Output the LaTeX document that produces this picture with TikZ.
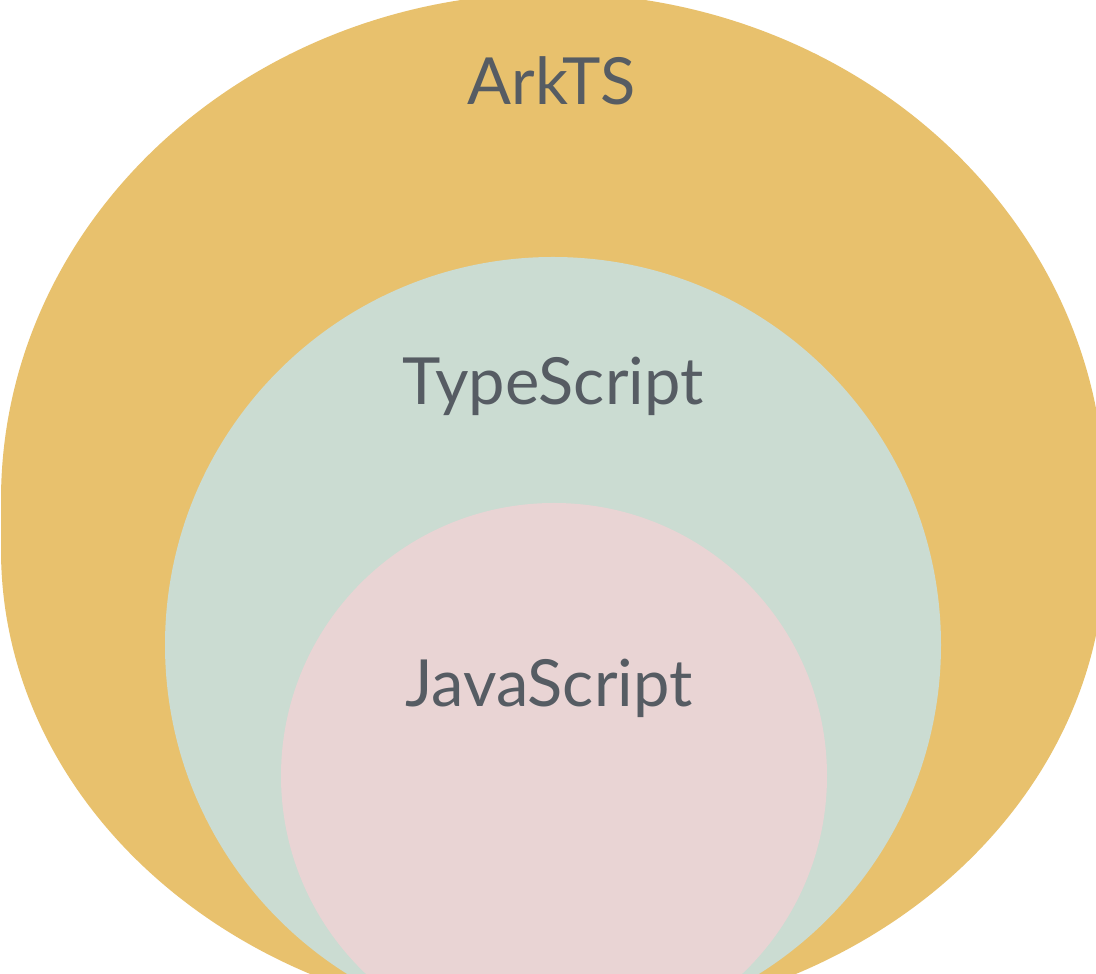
\documentclass[tikz,border=0pt]{standalone}
\usepackage{fontspec}
\setmainfont{Lato}
\definecolor{arkgold}{HTML}{E8C16D}
\definecolor{tsgreen}{HTML}{CBDCD2}
\definecolor{jspink}{HTML}{E9D4D4}
\definecolor{labelgray}{HTML}{565C63}
\tikzset{
  biglabel/.style={anchor=base, inner sep=0pt, text=labelgray,
    font=\fontsize{65}{72}\selectfont}
}
\begin{document}
\begin{tikzpicture}[x=1pt,y=1pt]
\useasboundingbox (0,0) rectangle (1096,974);
\clip (0,0) rectangle (1096,974);
\fill[white] (0,0) rectangle (1096,974);
% outer ArkTS shape
\fill[arkgold] (1,424) -- (1,474)
  arc[start angle=180, end angle=0, x radius=552pt, y radius=507pt]
  -- (1105,424)
  arc[start angle=0, end angle=-180, x radius=552pt, y radius=472pt]
  -- cycle;
% TypeScript circle
\fill[tsgreen] (553,329) circle[radius=388pt];
% JavaScript circle
\fill[jspink] (554,198) circle[radius=273pt];
\node[biglabel] (ark) at (552,869) {ArkTS};
\node[biglabel] (ts) at (553,569) {TypeScript};
\node[biglabel] (js) at (549,267) {JavaScript};
\end{tikzpicture}
\end{document}
